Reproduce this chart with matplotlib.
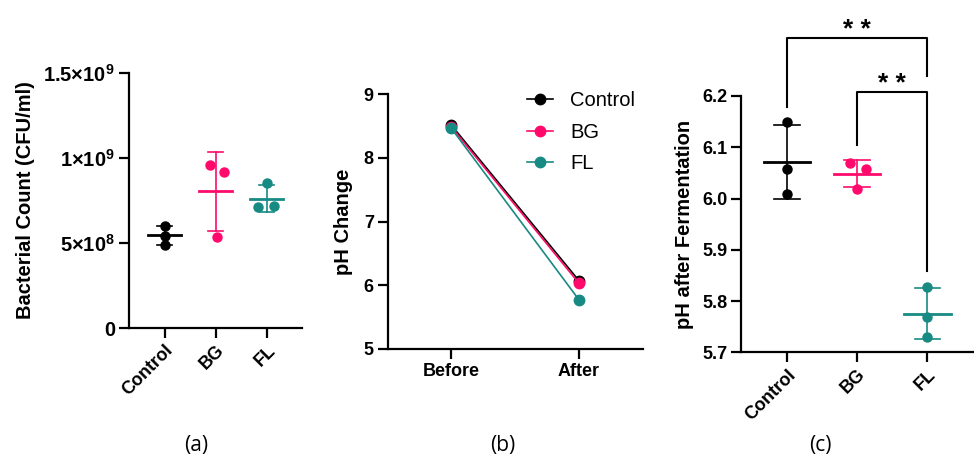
import matplotlib
matplotlib.use("Agg")
import matplotlib.pyplot as plt
from matplotlib.ticker import FixedLocator

plt.rcParams["font.family"] = ["Liberation Sans", "DejaVu Sans"]
plt.rcParams["mathtext.fontset"] = "custom"
plt.rcParams["mathtext.rm"] = "Liberation Sans:bold"
plt.rcParams["mathtext.bf"] = "Liberation Sans:bold"

# ---- data -------------------------------------------------------------
groups = ["Control", "BG", "FL"]
colors = ["#000000", "#FF0A6C", "#188A84"]

# (a) bacterial count, CFU/ml
count_control = [6.02e8, 5.43e8, 4.88e8]
count_bg = [9.59e8, 9.18e8, 5.37e8]
count_fl = [8.51e8, 7.14e8, 7.20e8]

# (b) pH before / after
stages = ["Before", "After"]
ph_control = [8.51, 6.07]
ph_bg = [8.48, 6.03]
ph_fl = [8.46, 5.77]

# (c) pH after fermentation
phf_control = [6.149, 6.057, 6.008]
phf_bg = [6.069, 6.058, 6.018]
phf_fl = [5.828, 5.768, 5.729]

# significance brackets: (group i, group j, label)
sig_pairs = [(0, 2, "* *"), (1, 2, "* *")]

# horizontal scatter of replicate dots (style only)
jitter_a = [[0, 0, 0], [-0.11, 0.17, 0.02], [0, -0.16, 0.14]]
jitter_c = [[0, 0, 0], [-0.10, 0.12, 0.0], [0, 0, 0]]

TICK_FS = 13
LABEL_FS = 14.5


def style_axes(ax, ytick_fs=TICK_FS):
    for side in ("top", "right"):
        ax.spines[side].set_visible(False)
    for side in ("left", "bottom"):
        ax.spines[side].set_linewidth(1.6)
    ax.tick_params(width=1.6, length=7, labelsize=TICK_FS, pad=3)
    ax.tick_params(axis="y", labelsize=ytick_fs)
    for lab in ax.get_xticklabels() + ax.get_yticklabels():
        lab.set_fontweight("bold")


def mean_sd(vals):
    n = len(vals)
    m = sum(vals) / n
    sd = (sum((v - m) ** 2 for v in vals) / (n - 1)) ** 0.5
    return m, sd


def dot_plot(ax, data, jitter, mean_w, cap_w, ms):
    for i, (vals, col) in enumerate(zip(data, colors)):
        m, sd = mean_sd(vals)
        xs = [i + j for j in jitter[i]]
        ax.plot(xs, vals, "o", color=col, ms=ms, zorder=3, clip_on=False)
        ax.plot([i - mean_w, i + mean_w], [m, m], color=col, lw=2.0, zorder=2)
        ax.plot([i, i], [m - sd, m + sd], color=col, lw=1.2, zorder=2)
        for y in (m - sd, m + sd):
            ax.plot([i - cap_w, i + cap_w], [y, y], color=col, lw=1.2, zorder=2)


fig = plt.figure(figsize=(9.74, 4.61), dpi=100)

# ---- (a) --------------------------------------------------------------
ax1 = fig.add_axes([0.1324, 0.2885, 0.178, 0.553])
dot_plot(ax1, [count_control, count_bg, count_fl], jitter_a, 0.32, 0.15, 6.5)
ax1.set_xlim(-0.7, 2.7)
ax1.set_ylim(0, 1.5e9)
ax1.set_xticks(range(3))
ax1.set_xticklabels(groups, rotation=45, ha="right", rotation_mode="anchor")
ax1.yaxis.set_major_locator(FixedLocator([0, 5e8, 1e9, 1.5e9]))
ax1.set_yticklabels(["0", r"5×10$^{8}$", r"1×10$^{9}$", r"1.5×10$^{9}$"])
ax1.set_ylabel("Bacterial Count (CFU/ml)", fontsize=LABEL_FS, fontweight="bold", labelpad=6)
style_axes(ax1, ytick_fs=14.5)

# ---- (b) --------------------------------------------------------------
ax2 = fig.add_axes([0.398, 0.243, 0.262, 0.553])
for name, vals, col in zip(groups, [ph_control, ph_bg, ph_fl], colors):
    ax2.plot(range(len(stages)), vals, "-o", color=col, lw=1.2, ms=7.5, label=name, clip_on=False)
ax2.set_xlim(-0.5, 1.5)
ax2.set_ylim(5, 9)
ax2.set_xticks(range(len(stages)))
ax2.set_xticklabels(stages)
ax2.set_yticks([5, 6, 7, 8, 9])
ax2.set_ylabel("pH Change", fontsize=LABEL_FS, fontweight="bold", labelpad=8)
ax2.legend(loc="upper left", bbox_to_anchor=(0.546, 1.01), borderaxespad=0, borderpad=0,
           frameon=False, fontsize=14.5, handlelength=1.3, handletextpad=0.85,
           labelspacing=0.6)
style_axes(ax2)

# ---- (c) --------------------------------------------------------------
ax3 = fig.add_axes([0.761, 0.2358, 0.238, 0.556])
dot_plot(ax3, [phf_control, phf_bg, phf_fl], jitter_c, 0.33, 0.18, 6.5)
ax3.set_xlim(-0.65, 2.65)
ax3.set_ylim(5.7, 6.2)
ax3.set_xticks(range(3))
ax3.set_xticklabels(groups, rotation=45, ha="right", rotation_mode="anchor")
ax3.set_yticks([5.7, 5.8, 5.9, 6.0, 6.1, 6.2])
ax3.set_yticklabels([f"{v:.1f}" for v in [5.7, 5.8, 5.9, 6.0, 6.1, 6.2]])
ax3.set_ylabel("pH after Fermentation", fontsize=LABEL_FS, fontweight="bold", labelpad=6)
style_axes(ax3)

# brackets: top y, left foot, right foot, star baseline y
bracket_geom = [(6.314, 6.179, 6.239, 6.316), (6.208, 6.104, 5.858, 6.210)]
for (i, j, txt), (yt, yl, yr, ys) in zip(sig_pairs, bracket_geom):
    ax3.plot([i, i, j, j], [yl, yt, yt, yr], color="black", lw=1.5, clip_on=False)
    ax3.text((i + j) / 2, ys, txt, ha="center", va="baseline", fontsize=19,
             fontweight="bold", clip_on=False)

# panel letters
for x, lab in zip([196, 503, 820], ["(a)", "(b)", "(c)"]):
    fig.text(x / 974, 1 - 445 / 461, lab, ha="center", va="center", fontsize=15,
             family=["Open Sans", "DejaVu Sans"])

fig.savefig("out.png", dpi=100)
